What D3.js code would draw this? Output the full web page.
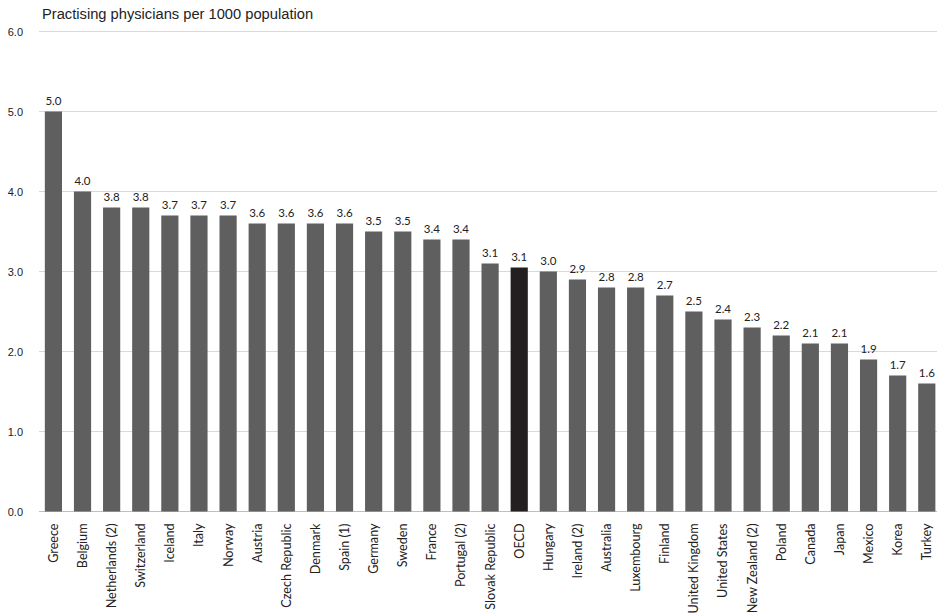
<!DOCTYPE html>
<html><head><meta charset="utf-8">
<script src="https://cdn.jsdelivr.net/npm/d3@7"></script>
<style>
html,body{margin:0;padding:0;background:#fff;}
svg{display:block;}
</style></head>
<body>
<svg id="chart" width="937" height="615"></svg>
<script>
const countries = ["Greece","Belgium","Netherlands (2)","Switzerland","Iceland","Italy","Norway","Austria","Czech Republic","Denmark","Spain (1)","Germany","Sweden","France","Portugal (2)","Slovak Republic","OECD","Hungary","Ireland (2)","Australia","Luxembourg","Finland","United Kingdom","United States","New Zealand (2)","Poland","Canada","Japan","Mexico","Korea","Turkey"];
const values = [5.0,4.0,3.8,3.8,3.7,3.7,3.7,3.6,3.6,3.6,3.6,3.5,3.5,3.4,3.4,3.1,3.05,3.0,2.9,2.8,2.8,2.7,2.5,2.4,2.3,2.2,2.1,2.1,1.9,1.7,1.6];
const valueLabels = ["5.0","4.0","3.8","3.8","3.7","3.7","3.7","3.6","3.6","3.6","3.6","3.5","3.5","3.4","3.4","3.1","3.1","3.0","2.9","2.8","2.8","2.7","2.5","2.4","2.3","2.2","2.1","2.1","1.9","1.7","1.6"];
const yTicks = [0,1,2,3,4,5,6];
const highlight = "OECD";
const title = "Practising physicians per 1000 population";

const svg = d3.select("#chart");
const W = 937, H = 615;
const x = d3.scaleBand().domain(countries).range([39, 941.2]).paddingInner(0.41).paddingOuter(0.2);
const y = d3.scaleLinear().domain([0, 6]).range([511.5, 31.5]);

// gridlines
svg.append("g").selectAll("line").data(yTicks).join("line")
  .attr("x1", 39).attr("x2", W)
  .attr("y1", d => y(d)).attr("y2", d => y(d))
  .attr("stroke", d => d === 0 ? "#bfbfbf" : "#d9d9d9").attr("stroke-width", 1);

// y axis labels
const yAxis = d3.axisLeft(y).tickValues(yTicks).tickFormat(d3.format(".1f")).tickSize(0).tickPadding(0);
const ya = svg.append("g").attr("transform", "translate(23,0)").call(yAxis);
ya.select(".domain").remove();
ya.selectAll("text").attr("font-family", "Liberation Sans, Arial, sans-serif").attr("font-size", 11).attr("fill", "#222");

// bars
svg.append("g").selectAll("rect").data(countries).join("rect")
  .attr("x", d => x(d)).attr("width", x.bandwidth())
  .attr("y", (d, i) => y(values[i])).attr("height", (d, i) => y(0) - y(values[i]))
  .attr("fill", d => d === highlight ? "#231f20" : "#5f5f5f");

// value labels
svg.append("g").selectAll("text").data(countries).join("text")
  .attr("x", d => x(d) + x.bandwidth() / 2)
  .attr("y", (d, i) => y(values[i]) - 7)
  .attr("text-anchor", "middle")
  .attr("font-family", "Lato, 'Open Sans', sans-serif").attr("font-size", 11.5).attr("fill", "#222")
  .text((d, i) => valueLabels[i]);

// x axis labels
const xAxis = d3.axisBottom(x).tickSize(0).tickPadding(0);
const xa = svg.append("g").attr("transform", `translate(0,${y(0)})`).call(xAxis);
xa.select(".domain").remove();
xa.selectAll("text")
  .attr("transform", "rotate(-90)")
  .attr("x", -12).attr("y", 0).attr("dy", "0.35em")
  .attr("text-anchor", "end")
  .attr("font-family", "Lato, 'Open Sans', sans-serif").attr("font-size", 12.6).attr("fill", "#222");

// title
svg.append("text").attr("x", 42).attr("y", 19)
  .attr("font-family", "Liberation Sans, Arial, sans-serif").attr("font-size", 14.7).attr("fill", "#222")
  .text(title);
</script>
</body></html>
